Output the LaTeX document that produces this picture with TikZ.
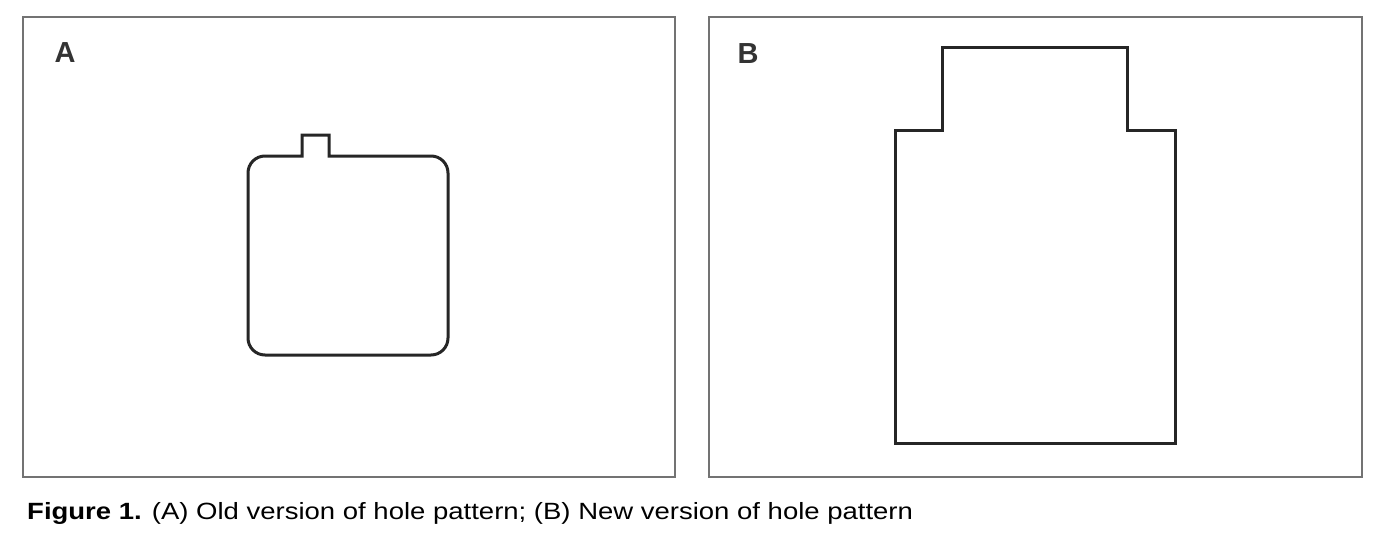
\documentclass[tikz,border=0pt]{standalone}
\usepackage{fontspec}
\setmainfont{Liberation Sans}
\begin{document}
\begin{tikzpicture}[x=1pt,y=-1pt,
  frame/.style={draw=black!55, line width=2pt},
  outline/.style={draw=black!85, line width=3pt, line join=miter},
  panellabel/.style={font=\fontsize{29}{29}\selectfont\bfseries, text=black!80, inner sep=0pt},
  captiontext/.style={font=\fontsize{23.5}{27}\selectfont, inner sep=0pt, anchor=base west}]
\useasboundingbox (0,0) rectangle (1392,538);
\fill[white] (0,0) rectangle (1392,538);
% panel frames
\draw[frame] (23,17) rectangle (675,477);
\draw[frame] (709,17) rectangle (1362,477);
% panel labels
\node[panellabel] (la) at (65,53) {A};
\node[panellabel] (lb) at (748,54) {B};
% old hole pattern
\draw[outline] (302,156) -- (302,135) -- (329,135) -- (329,156) -- (431,156)
  .. controls (440.4,156) and (448,163.6) .. (448,173) -- (448,338)
  .. controls (448,347.4) and (440.4,355) .. (431,355) -- (265,355)
  .. controls (255.6,355) and (248,347.4) .. (248,338) -- (248,173)
  .. controls (248,163.6) and (255.6,156) .. (265,156) -- cycle;
% new hole pattern
\draw[outline] (942,47) -- (1127,47) -- (1127,130) -- (1175,130) -- (1175,443)
  -- (895,443) -- (895,130) -- (942,130) -- cycle;
% caption
\node[captiontext] (cap) at (27,519) {\scalebox{1.17}[1]{\textbf{Figure 1.} (A) Old version of hole pattern; (B) New version of hole pattern}};
\end{tikzpicture}
\end{document}
